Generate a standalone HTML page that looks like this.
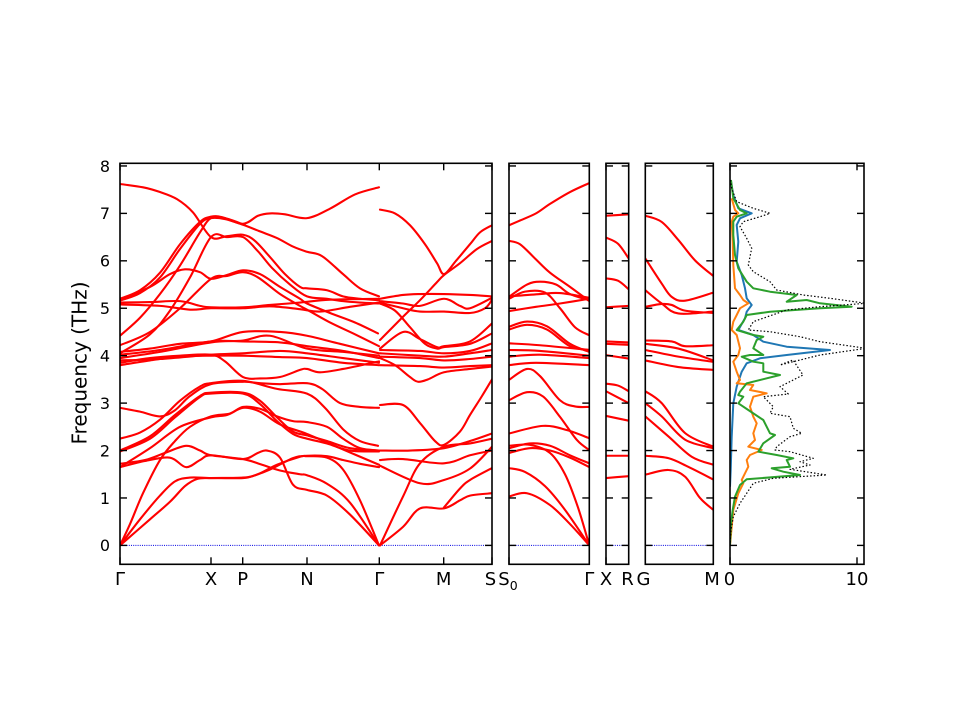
<!DOCTYPE html>
<html><head><meta charset="utf-8">
<style>
html,body{margin:0;padding:0;background:#fff;}
svg{display:block;}
text{font-family:"DejaVu Sans","Liberation Sans",sans-serif;fill:#000;}
</style></head>
<body>
<svg id="s" xmlns="http://www.w3.org/2000/svg" width="960" height="720" viewBox="0 0 960 720">
<rect width="960" height="720" fill="#fff"/>
<defs>
<clipPath id="c0"><rect x="120" y="163.3" width="372" height="401"/></clipPath>
<clipPath id="c1"><rect x="509" y="163.3" width="80.3" height="401"/></clipPath>
<clipPath id="c2"><rect x="606" y="163.3" width="22.7" height="401"/></clipPath>
<clipPath id="c3"><rect x="645.3" y="163.3" width="68" height="401"/></clipPath>
<clipPath id="c4"><rect x="730" y="163.3" width="134" height="401"/></clipPath>
</defs>
<g id="zero"></g>
<g id="bands" fill="none" stroke="#ff0000" stroke-width="2.1" stroke-linejoin="round" stroke-linecap="round"></g>
<g id="dos" fill="none" stroke-width="2" stroke-linejoin="round"></g>
<g id="axes" fill="none" stroke="#000"></g>
<g id="labels" font-size="16"></g>
<text x="0" y="0" font-size="20" text-anchor="middle" transform="translate(86.5,363) rotate(-90)">Frequency (THz)</text>
<g font-size="18" text-anchor="middle">
<text x="120" y="585">Γ</text>
<text x="211" y="585">X</text>
<text x="242.7" y="585">P</text>
<text x="307" y="585">N</text>
<text x="379.3" y="585">Γ</text>
<text x="443.7" y="585">M</text>
<text x="490.5" y="585">S</text>
<text x="508" y="585">S<tspan font-size="12.5" dy="5">0</tspan></text>
<text x="589.3" y="585">Γ</text>
<text x="606" y="585">X</text>
<text x="627.5" y="585">R</text>
<text x="643.5" y="585">G</text>
<text x="712" y="585">M</text>
<text x="729.5" y="585">0</text>
<text x="857" y="585">10</text>
</g>
</svg>
<script>
(function(){
var NS="http://www.w3.org/2000/svg";
function Y(f){return 545.4-47.43*f;}
function el(parent,tag,attrs){var e=document.createElementNS(NS,tag);for(var k in attrs)e.setAttribute(k,attrs[k]);parent.appendChild(e);return e;}
function cr(a){
 var p=[];for(var i=0;i<a.length;i+=2)p.push([a[i],Y(a[i+1])]);
 var d="M"+p[0][0].toFixed(2)+","+p[0][1].toFixed(2);
 for(var i=0;i<p.length-1;i++){
  var p0=p[i-1]||p[i],p1=p[i],p2=p[i+1],p3=p[i+2]||p2;
  var c1x=p1[0]+(p2[0]-p0[0])/6,c1y=p1[1]+(p2[1]-p0[1])/6;
  var c2x=p2[0]-(p3[0]-p1[0])/6,c2y=p2[1]-(p3[1]-p1[1])/6;
  d+="C"+c1x.toFixed(2)+","+c1y.toFixed(2)+" "+c2x.toFixed(2)+","+c2y.toFixed(2)+" "+p2[0].toFixed(2)+","+p2[1].toFixed(2);
 }
 return d;
}
var bands=document.getElementById("bands");
var groups={
c0:[
[120,7.62,143,7.55,160,7.45,177,7.3,193,7.02,211,6.5,227,6.52,243,6.55,255,6.42,270,6.08,285,5.72,300,5.45,307,5.42,327,5.38,343,5.25,360,5.2,379,5.17],
[120,4.05,150,4.45,170,4.95,190,5.65,211,6.5,227,6.5,243,6.5,258,6.2,272,5.85,290,5.5,307,5.25,327,5.2,343,5.15,360,5.12,379,5.1],
[120,5.2,140,5.38,160,5.75,180,6.35,200,6.82,211,6.93,222,6.92,243,6.78,258,6.95,270,7.0,285,6.98,307,6.9,330,7.1,355,7.4,379,7.55],
[120,5.16,140,5.32,160,5.65,180,6.25,200,6.78,211,6.9,225,6.88,243,6.76,260,6.62,277,6.48,293,6.3,307,6.19,322,6.1,343,5.72,360,5.42,379,5.25],
[120,4.42,140,4.8,160,5.3,180,5.9,200,6.6,211,6.9,225,6.9,243,6.77],
[120,5.18,150,5.45,170,5.72,185,5.82,200,5.76,211,5.62,227,5.7,243,5.8,260,5.72,280,5.45,300,5.2,307,5.1,330,4.9,355,4.7,378,4.47],
[120,4.22,150,4.5,180,5.0,211,5.62,227,5.68,243,5.76,258,5.65,280,5.3,300,5.05,307,4.97,330,4.7,355,4.45,379,4.2],
[120,5.12,150,5.13,180,5.15,200,5.05,211,5.02,243,5.02,270,5.07,300,5.12,330,5.18,379,5.2],
[120,5.08,160,5.05,190,4.97,211,5.0,243,5.0,270,5.04,300,4.98,320,4.93,350,5.03,379,5.12],
[120,4.08,150,4.15,180,4.25,211,4.3,243,4.5,280,4.5,307,4.42,340,4.25,379,4.05],
[120,4.02,160,4.12,211,4.3,243,4.3,280,4.28,307,4.2,343,4.1,379,3.95],
[120,3.95,160,4.08,211,4.28,243,4.32,270,4.42,307,4.15,343,4.08,379,4.0],
[120,3.85,150,3.95,180,4.0,211,4.02,225,3.88,243,3.55,260,3.52,280,3.55,300,3.7,307,3.72,320,3.65,343,3.72,379,3.88],
[120,3.8,150,3.9,180,3.98,211,4.0,243,4.0,280,3.97,307,3.95,343,3.85,379,3.8],
[120,3.9,160,3.93,211,4.02,243,4.05,280,4.1,307,4.05,343,3.95,379,3.85],
[120,2.9,140,2.82,160,2.72,175,2.85,190,3.15,211,3.4,243,3.45,260,3.42,280,3.4,307,3.42,322,3.3,340,3.0,360,2.92,379,2.9],
[120,2.25,140,2.38,160,2.65,180,3.05,200,3.35,211,3.42,243,3.47,277,3.3,307,3.2,325,2.9,343,2.45,360,2.2,378,2.1],
[120,2.0,150,2.3,175,2.75,200,3.15,211,3.22,243,3.22,260,3.05,277,2.7,293,2.4,307,2.32,327,2.2,350,2.05,379,2.0],
[120,1.98,150,2.25,175,2.7,200,3.13,211,3.2,243,3.2,260,2.98,277,2.62,293,2.35,307,2.25,327,2.15,350,2.0,379,1.98],
[120,0,130,0.45,143,1.1,160,1.8,175,2.2,190,2.5,211,2.72,230,2.78,243,2.92,260,2.88,277,2.72,293,2.62,307,2.6,327,2.5,343,2.25,360,2.05,379,2.0],
[120,1.65,150,2.05,180,2.5,211,2.7,227,2.75,243,2.9,260,2.82,280,2.55,307,2.35,340,2.05,379,1.7],
[120,1.65,145,1.78,170,1.85,186,1.65,200,1.8,211,1.9,243,1.82,258,1.95,267,2.0,280,1.85,293,1.28,307,1.17,327,1.05,350,0.65,379,0],
[120,1.72,145,1.8,165,1.95,186,2.1,200,2.0,211,1.9,243,1.82,262,1.7,280,1.58,300,1.5,307,1.48,327,1.3,350,0.9,379,0],
[120,0,140,0.55,160,1.05,175,1.35,190,1.43,211,1.42,243,1.42,255,1.48,270,1.6,293,1.84,307,1.89,327,1.88,343,1.8,360,1.72,379,1.65],
[120,0,150,0.55,170,0.92,185,1.25,197,1.4,211,1.42,243,1.43,258,1.5,277,1.7,300,1.87,307,1.88,327,1.85,343,1.6,360,0.95,379,0],
[380,7.08,395,7.0,410,6.75,425,6.35,437,5.95,444,5.72,456,6.0,470,6.35,480,6.6,492,6.75],
[380,4.33,403,4.82,420,5.17,437,5.55,444,5.7,460,5.95,477,6.25,492,6.42],
[380,5.2,403,5.28,420,5.3,444,5.3,470,5.28,492,5.25],
[380,5.15,403,5.1,420,5.05,444,5.2,460,5.05,470,5.0,492,5.22],
[380,5.12,403,5.0,420,4.93,444,4.93,470,4.9,485,5.0,492,5.18],
[380,5.1,395,4.95,410,4.6,425,4.25,437,4.15,444,4.18,470,4.25,492,4.47],
[380,4.15,403,4.5,420,4.35,437,4.18,444,4.2,470,4.3,492,4.68],
[380,4.12,420,4.1,444,4.05,470,4.1,492,4.26],
[380,4.05,420,4.0,444,3.98,470,4.05,492,4.12],
[380,3.98,420,3.95,444,3.9,470,3.93,492,3.98],
[380,3.8,420,3.78,444,3.75,470,3.78,492,3.8],
[380,3.95,395,3.8,410,3.55,418,3.45,428,3.5,444,3.65,470,3.72,492,3.77],
[380,2.96,403,2.96,420,2.58,435,2.2,444,2.12,460,2.4,470,2.75,482,3.15,492,3.5],
[380,2.0,410,2.0,444,2.05,470,2.2,492,2.36],
[380,1.8,403,1.82,444,1.73,470,1.9,492,2.0],
[380,1.68,420,1.31,444,1.38,470,1.62,492,2.08],
[380,0,403,1.03,420,1.73,444,2.08,470,2.15,492,2.25],
[380,0,403,0.39,420,0.78,444,0.78,460,0.95,470,1.05,492,1.1],
[444,0.8,460,1.2,470,1.38,492,1.63]
],
c1:[
[509,6.75,520,6.85,536,7.0,550,7.2,570,7.45,589.3,7.64],
[509,6.42,520,6.35,535,6.05,550,5.75,570,5.45,589.3,5.15],
[509,5.24,527,5.5,540,5.56,556,5.5,570,5.3,589.3,5.17],
[509,5.2,525,5.35,545,5.33,560,5.0,575,4.6,589.3,4.43],
[509,4.94,536,5.03,560,5.1,589.3,5.2],
[509,5.25,540,5.3,560,5.32,589.3,5.22],
[509,4.61,527,4.72,547,4.62,570,4.25,589.3,4.08],
[509,4.55,527,4.65,547,4.55,570,4.2,589.3,4.12],
[509,4.26,540,4.22,589.3,4.12],
[509,4.12,540,4.1,589.3,4.0],
[509,3.98,540,4.02,589.3,3.95],
[509,3.8,536,3.85,589.3,3.8],
[509,3.49,527,3.72,540,3.57,560,3.06,575,2.93,589.3,2.92],
[509,3.06,527,3.23,543,3.14,560,2.71,577,2.22,589.3,2.01],
[509,2.36,543,2.52,567,2.43,589.3,2.26],
[509,2.05,530,2.15,550,2.1,570,1.9,589.3,1.73],
[509,1.95,530,2.05,550,2.0,570,1.85,589.3,1.65],
[509,2.1,530,2.12,550,1.95,565,1.5,578,0.8,589.3,0],
[509,1.63,525,1.55,545,1.25,565,0.75,589.3,0],
[509,1.03,527,1.1,550,0.85,570,0.45,589.3,0]
],
c2:[
[606,6.95,628.7,6.98],
[606,6.49,618,6.36,628.7,6.05],
[606,5.63,618,5.58,628.7,5.4],
[606,5.02,628.7,5.05],
[606,4.3,628.7,4.28],
[606,4.25,628.7,4.23],
[606,4.01,628.7,3.94],
[606,3.41,618,3.37,628.7,3.25],
[606,3.25,628.7,3.0],
[606,2.73,628.7,2.63],
[606,1.89,628.7,1.89],
[606,1.42,628.7,1.46]
],
c3:[
[645.3,6.95,661.7,6.82,678.3,6.44,695,6.01,713.3,5.68],
[645.3,6.05,661.7,5.52,671.7,5.24,685,5.16,713.3,5.33],
[645.3,5.38,661.7,5.1,678.3,4.89,713.3,4.93],
[645.3,5.03,661.7,5.09,671.7,5.07,685,4.95,713.3,4.9],
[645.3,4.32,671.7,4.3,685,4.2,713.3,4.22],
[645.3,4.25,678.3,4.15,713.3,3.9],
[645.3,4.12,678.3,3.98,713.3,3.87],
[645.3,3.9,678.3,3.76,713.3,3.7],
[645.3,3.25,661.7,3.0,685,2.37,713.3,2.08],
[645.3,3.0,661.7,2.72,685,2.23,713.3,2.05],
[645.3,2.72,668.3,2.3,691.7,1.87,713.3,1.7],
[645.3,1.89,668.3,1.84,688,1.66,713.3,1.39],
[645.3,1.49,668.3,1.59,685,1.45,700,1.0,713.3,0.75]
]};
var panels=[[120,492],[509,589.3],[606,628.7],[645.3,713.3],[730,864]];
var top=163.3,bot=564.3;
var zero=document.getElementById("zero");
for(var i=0;i<4;i++){el(zero,"line",{x1:panels[i][0],x2:panels[i][1],y1:Y(0),y2:Y(0),stroke:"#0000e0","stroke-width":1,"stroke-dasharray":"1,1.2"});}
for(var k in groups){var g=el(bands,"g",{"clip-path":"url(#"+k+")"});groups[k].forEach(function(a){el(g,"path",{d:cr(a)});});}
var dos=document.getElementById("dos");
var dg=el(dos,"g",{"clip-path":"url(#c4)"});
function poly(pts,attrs){var s="";for(var i=0;i<pts.length;i+=2)s+=pts[i]+","+pts[i+1]+" ";attrs.points=s;el(dg,"polyline",attrs);}
poly([731,181.7,733.3,195,738.3,208.3,751.7,213.3,740,218.3,736.7,225,738.3,241.7,736.7,261.7,741.7,275,745,288.3,746.7,298.3,751.7,305,746.7,311.7,745,318.3,738.3,330,753.3,335,763.3,341.7,786.7,346.7,830,350,786.7,355,760,358.3,746.7,363.3,741.7,371.7,736.7,386.7,733.3,403.3,731.7,436.7,730.7,470,730,486.7],{stroke:"#1f77b4"});
poly([731.7,198.3,735,210,738.3,213.3,733.3,216.7,731.7,221.7,732.7,241.7,733.3,265,735,288.3,740,295,743.3,300,748.3,303.3,740,308.3,736.7,315,733.3,321.7,731.7,330,736.7,335,740,348.3,738.3,355,733.3,361.7,736.7,371.7,740,380,736.7,383.3,753.3,385,750,390,766.7,393.3,753.3,396.7,750,406.7,753.3,416.7,756.7,423.3,753.3,433.3,755,440,748.3,446.7,761.7,450,750,455,746.7,460,748.3,466.7,745,473.3,741.7,480,743.3,483.3,738.3,493.3,733.3,510,730,545],{stroke:"#ff7f0e"});
poly([731,180,733.3,198.3,740,210,746.7,213.3,736.7,216.7,733.3,221.7,733.3,235,735,255,738.3,268.3,746.7,281.7,753.3,288.3,770,291.7,796.7,295,786.7,301.7,806.7,300,820,303.3,851.7,306.7,820,308.3,770,311.7,746.7,315,743.3,321.7,736.7,330,753.3,335,763.3,336.7,756.7,340,753.3,348.3,763.3,355,750,355,741.7,356.7,753.3,361.7,763.3,363.3,763.3,371.7,780,375,746.7,383.3,740,391.7,738.3,395,743.3,396.7,738.3,403.3,748.3,410,763.3,420,770,433.3,775,435,763.3,443.3,758.3,451.7,776.7,455,793.3,458.3,786.7,460,790,466.7,771.7,468.3,783.3,471.7,800,475,746.7,479.3,740,485,735,496.7,732.7,510,731,523.3,730,545],{stroke:"#2ca02c"});
poly([730.5,180,731.7,188.3,736.7,201.7,753.3,208.3,770,213.3,760,216.7,743.3,221.7,740,226.7,746.7,238.3,751.7,248.3,748.3,265,753.3,271.7,770,281.7,776.7,290,803.3,295,830,298.3,866,303.3,820,306.7,786.7,310,753.3,321.7,748.3,330,770,331.7,800,336.7,820,341.7,866,348.3,820,355,780,365,793,360,803,375,780,386.7,788.3,394,763.3,396.7,773.3,406.7,770,413.3,790,416.7,793.3,428.3,801.7,433.3,790,436.7,776.7,446.7,775,450,790,451.7,813.3,458.3,800,461.7,810,465,790,469.3,826.7,475,773.3,478.3,753.3,483.3,746.7,493.3,740,503.3,733.3,516.7,731,530,730,545],{stroke:"#000","stroke-width":1.2,"stroke-dasharray":"1.5,2"});
var ax=document.getElementById("axes");
var xt=[[120,211,242.7,307,379.3,443.7,492],[509,589.3],[606,628.7],[645.3,713.3],[730,857]];
var tl=7;
panels.forEach(function(p,i){
 for(var f=0;f<=8;f++){var y=Y(f);
  el(ax,"line",{x1:p[0],x2:p[0]+tl,y1:y,y2:y,"stroke-width":1.4});
  el(ax,"line",{x1:p[1]-tl,x2:p[1],y1:y,y2:y,"stroke-width":1.4});}
 xt[i].forEach(function(x){
  el(ax,"line",{x1:x,x2:x,y1:bot,y2:bot-tl,"stroke-width":1.4});
  el(ax,"line",{x1:x,x2:x,y1:top,y2:top+tl,"stroke-width":1.4});});
 el(ax,"rect",{x:p[0],y:top,width:p[1]-p[0],height:bot-top,"stroke-width":1.6});
});
var lb=document.getElementById("labels");
for(var f=0;f<=8;f++){var t=el(lb,"text",{x:110,y:(Y(f)+5.8).toFixed(1),"text-anchor":"end"});t.textContent=String(f);}
})();
</script>
</body></html>
